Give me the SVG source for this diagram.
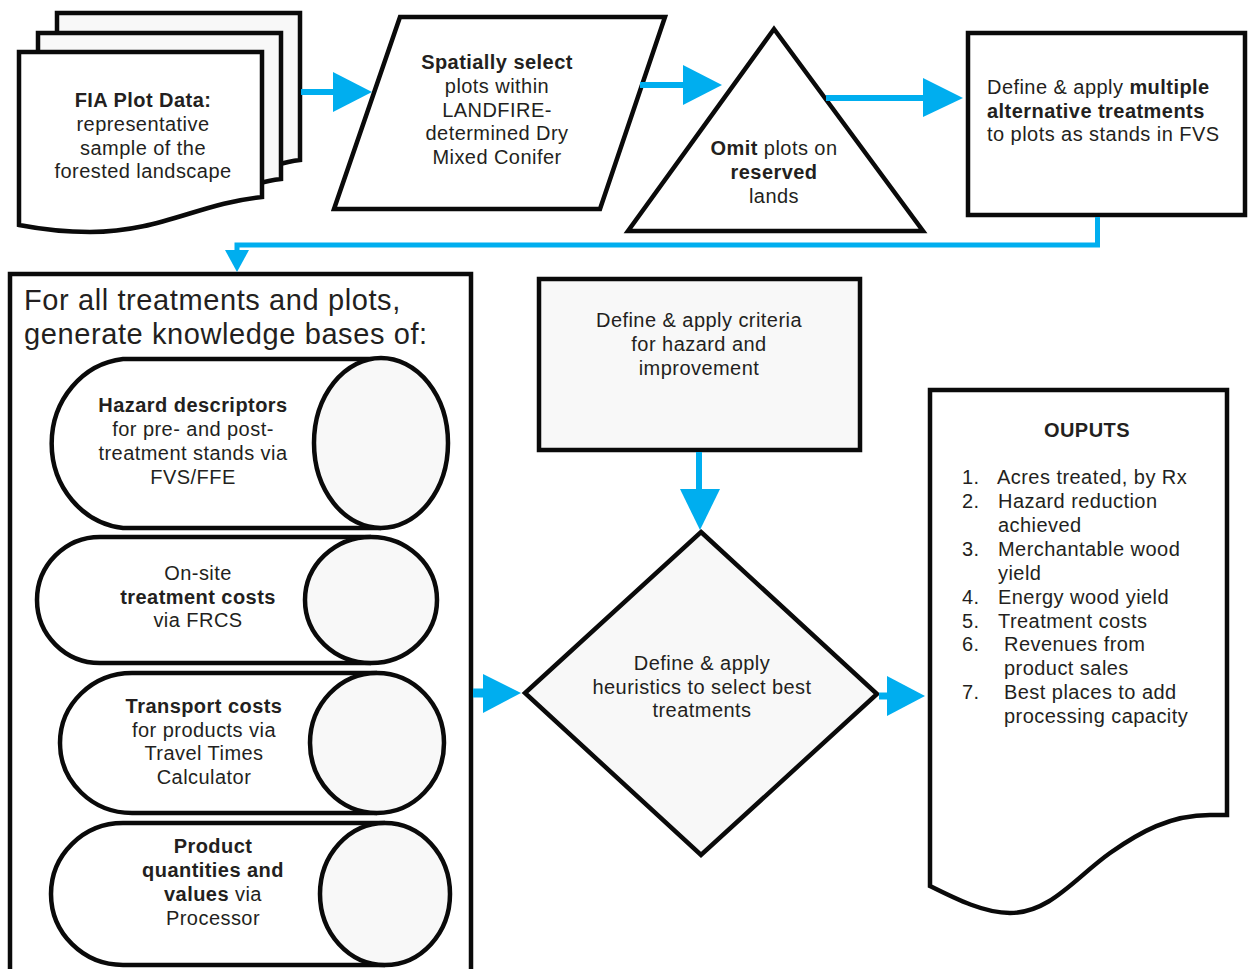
<svg xmlns="http://www.w3.org/2000/svg" width="1253" height="969" viewBox="0 0 1253 969">
<style>
.s{stroke:#0a0a0a;stroke-width:4.5;stroke-linejoin:miter;fill:#fff}
.g{fill:#f8f8f8}
.t{font-family:"Liberation Sans",Arial,sans-serif;font-size:20px;fill:#231f20;letter-spacing:0.45px}
.c{text-anchor:middle}
.b{font-weight:bold}
.ln{stroke:#00aeef;fill:none}
.ah{fill:#00aeef}
</style>
<rect width="1253" height="969" fill="#fff"/>
<g id="fia">
<path class="s g" d="M57,13 H300 V160 C270,163 240,182 210,188 L57,188 Z"/>
<path class="s g" d="M38,33 H281 V179 C250,182 220,200 190,206 L38,206 Z"/>
<path class="s" d="M19,52 H262 V197 C200,203 160,232 90,232 C65,232 40,229 19,225 Z"/>
<text class="t c" x="143"><tspan class="b" x="143" y="107">FIA Plot Data:</tspan><tspan x="143" y="131">representative</tspan><tspan x="143" y="155">sample of the</tspan><tspan x="143" y="178">forested landscape</tspan></text>
</g>
<g id="select">
<path class="s" d="M400,17 H665 L600,209 H334 Z"/>
<text class="t c"><tspan class="b" x="497" y="69">Spatially select</tspan><tspan x="497" y="93">plots within</tspan><tspan x="497" y="117">LANDFIRE-</tspan><tspan x="497" y="140">determined Dry</tspan><tspan x="497" y="164">Mixed Conifer</tspan></text>
</g>
<g id="omit">
<path class="s" d="M774,29 L923,231 H628 Z"/>
<text class="t c"><tspan x="774" y="155"><tspan class="b">Omit</tspan> plots on</tspan><tspan class="b" x="774" y="179">reserved</tspan><tspan x="774" y="203">lands</tspan></text>
</g>
<g id="treatments">
<rect class="s" x="968" y="33" width="277" height="182"/>
<text class="t"><tspan x="987" y="94">Define &amp; apply <tspan class="b">multiple</tspan></tspan><tspan class="b" x="987" y="118">alternative treatments</tspan><tspan x="987" y="141">to plots as stands in FVS</tspan></text>
</g>
<g id="knowledge">
<rect class="s" x="10" y="274" width="461" height="700"/>
<text class="t" style="font-size:29px;letter-spacing:0.6px"><tspan x="24" y="310">For all treatments and plots,</tspan><tspan x="24" y="344">generate knowledge bases of:</tspan></text>
</g>
<g id="hazard">
<path class="s" d="M381,359 H123 A80,85 0 0 0 123,528 H381"/>
<ellipse class="s g" cx="381" cy="443" rx="67" ry="85"/>
<text class="t c"><tspan class="b" x="193" y="412">Hazard descriptors</tspan><tspan x="193" y="436">for pre- and post-</tspan><tspan x="193" y="460">treatment stands via</tspan><tspan x="193" y="484">FVS/FFE</tspan></text>
</g>
<g id="onsite">
<path class="s" d="M371,537 H100 A63,63 0 0 0 100,663 H371"/>
<ellipse class="s g" cx="371" cy="600" rx="66" ry="63"/>
<text class="t c"><tspan x="198" y="580">On-site</tspan><tspan class="b" x="198" y="604">treatment costs</tspan><tspan x="198" y="627">via FRCS</tspan></text>
</g>
<g id="transport">
<path class="s" d="M377,673 H132 A72,70 0 0 0 132,813 H377"/>
<ellipse class="s g" cx="377" cy="743" rx="67" ry="70"/>
<text class="t c"><tspan class="b" x="204" y="713">Transport costs</tspan><tspan x="204" y="737">for products via</tspan><tspan x="204" y="760">Travel Times</tspan><tspan x="204" y="784">Calculator</tspan></text>
</g>
<g id="product">
<path class="s" d="M385,823 H123 A72,71 0 0 0 123,965 H385"/>
<ellipse class="s g" cx="385" cy="894" rx="65" ry="71"/>
<text class="t c"><tspan class="b" x="213" y="853">Product</tspan><tspan class="b" x="213" y="877">quantities and</tspan><tspan x="213" y="901"><tspan class="b">values</tspan> via</tspan><tspan x="213" y="925">Processor</tspan></text>
</g>
<g id="criteria">
<rect class="s g" x="539" y="279" width="321" height="171"/>
<text class="t c"><tspan x="699" y="327">Define &amp; apply criteria</tspan><tspan x="699" y="351">for hazard and</tspan><tspan x="699" y="375">improvement</tspan></text>
</g>
<g id="heuristics">
<path class="s g" d="M701,532 L877,694 L701,855 L525,693 Z"/>
<text class="t c"><tspan x="702" y="670">Define &amp; apply</tspan><tspan x="702" y="694">heuristics to select best</tspan><tspan x="702" y="717">treatments</tspan></text>
</g>
<g id="outputs">
<path class="s" d="M930,390 H1227 V815 H1210 C1170,815 1140,832 1110,853 C1075,878 1050,913 1010,913 C985,913 958,900 930,886 Z"/>
<text class="t"><tspan class="b c" x="1087" y="437">OUPUTS</tspan></text>
<text class="t"><tspan x="962" y="484">1.</tspan><tspan x="997" y="484">Acres treated, by Rx</tspan><tspan x="962" y="508">2.</tspan><tspan x="998" y="508">Hazard reduction</tspan><tspan x="998" y="532">achieved</tspan><tspan x="962" y="556">3.</tspan><tspan x="998" y="556">Merchantable wood</tspan><tspan x="998" y="580">yield</tspan><tspan x="962" y="604">4.</tspan><tspan x="998" y="604">Energy wood yield</tspan><tspan x="962" y="628">5.</tspan><tspan x="998" y="628">Treatment costs</tspan><tspan x="962" y="651">6.</tspan><tspan x="1004" y="651">Revenues from</tspan><tspan x="1004" y="675">product sales</tspan><tspan x="962" y="699">7.</tspan><tspan x="1004" y="699">Best places to add</tspan><tspan x="1004" y="723">processing capacity</tspan></text>
</g>
<g id="connectors">
<line class="ln" x1="301" y1="92" x2="335" y2="92" stroke-width="6"/>
<polygon class="ah" points="333,72 372,92 333,112"/>
<line class="ln" x1="640" y1="85" x2="685" y2="85" stroke-width="6"/>
<polygon class="ah" points="683,65 722,85 683,105"/>
<line class="ln" x1="826" y1="98" x2="925" y2="98" stroke-width="6"/>
<polygon class="ah" points="923,78 963,98 923,117"/>
<polyline class="ln" points="1097.5,217 1097.5,245 237,245 237,252" stroke-width="5"/>
<polygon class="ah" points="225,250 249,250 237,272"/>
<line class="ln" x1="699" y1="452" x2="699" y2="491" stroke-width="6"/>
<polygon class="ah" points="680,489 720,489 700,530"/>
<line class="ln" x1="473" y1="693" x2="485" y2="693" stroke-width="9"/>
<polygon class="ah" points="483,674 521,693 483,713"/>
<line class="ln" x1="879" y1="696" x2="889" y2="696" stroke-width="7"/>
<polygon class="ah" points="887,676 925,696 887,716"/>
</g>
</svg>
